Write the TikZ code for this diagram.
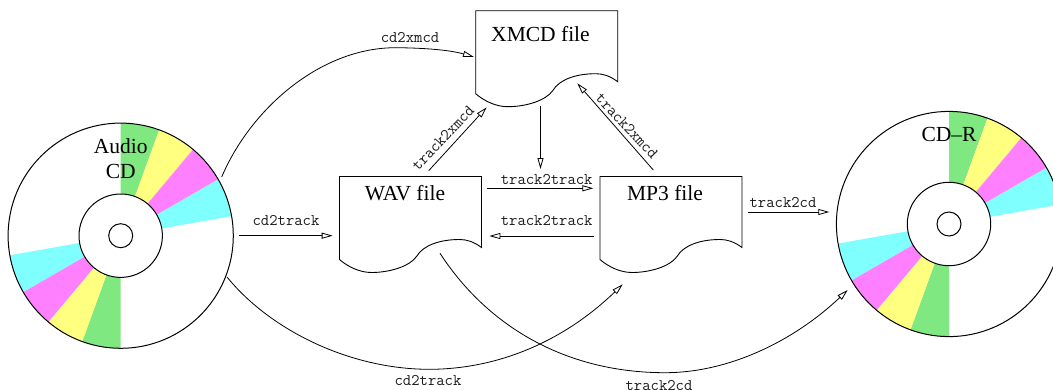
\documentclass[tikz,border=0pt]{standalone}
\usepackage{fontspec}
\setmainfont{Liberation Serif}
\usetikzlibrary{arrows.meta}
\definecolor{cdgreen}{RGB}{128,232,128}
\definecolor{cdyellow}{RGB}{255,255,128}
\definecolor{cdmagenta}{RGB}{255,128,255}
\definecolor{cdcyan}{RGB}{128,255,255}
\tikzset{
  doctext/.style={font=\fontsize{21.5}{21.5}\selectfont,inner sep=0pt},
  cmd/.style={font=\ttfamily\fontsize{16.2}{16.2}\selectfont,inner sep=0pt,text=black!90},
  conn/.style={line width=0.8pt,-{Triangle[open,length=11pt,width=6pt,line width=0.8pt]}},
  ring/.style={circle,draw,line width=1pt,inner sep=0pt,fill=white},
  docline/.style={line width=0.9pt},
  docpage/.pic={
    \draw[docline] (0,0) -- (142,0) -- (142,71)
      .. controls (134,65) and (127,63) .. (120,63)
      .. controls (102,63) and (84,68) .. (77,80)
      .. controls (70,90) and (50,96) .. (32,96)
      .. controls (20,96) and (8,90) .. (0,83) -- cycle;
  }
}
\newcommand{\cddisc}[2]{%
  \begin{scope}[shift={(#2)},y=1pt]
    \foreach \a/\b/\c in {90/70/cdgreen,70/50/cdyellow,50/30/cdmagenta,30/10/cdcyan,270/250/cdgreen,250/230/cdyellow,230/210/cdmagenta,210/190/cdcyan}{
      \fill[\c] (0,0) -- (\a:112.6) arc[start angle=\a,end angle=\b,radius=112.6pt] -- cycle;
    }
  \end{scope}
  \node[ring,fill=none,minimum size=225.2pt] (#1outer) at (#2) {};
  \node[ring,minimum size=83.4pt] (#1inner) at (#2) {};
  \node[ring,minimum size=24pt] (#1hole) at (#2) {};
}
\begin{document}
\begin{tikzpicture}[x=1pt,y=-1pt]
\useasboundingbox (0,0) rectangle (1053,389);
\begin{scope}
  \clip (0,0) rectangle (1053,389);
  \cddisc{audio}{120.7,235.7}
  \cddisc{cdr}{949,224}
\end{scope}
\node[doctext,align=center] (audiolabel) at (120.7,158.5) {Audio\\[3pt]CD};
\node[doctext] (cdrlabel) at (949,134) {CD--R};

\pic at (339.5,176.5) {docpage};
\pic at (475.7,10.7) {docpage};
\pic at (600,176.5) {docpage};
\node[doctext] (wav) at (405,193.5) {WAV file};
\node[doctext] (xmcd) at (540.5,34) {XMCD file};
\node[doctext] (mp3) at (665,193.5) {MP3 file};

\coordinate (a1) at (239,235.7);
\coordinate (a2) at (332.7,235.7);
\coordinate (b1) at (221.7,177);
\coordinate (b2) at (397,47.7);
\coordinate (b3) at (474,57);
\coordinate (c1) at (227,277);
\coordinate (c2) at (430,369.3);
\coordinate (c3) at (622.7,284.3);
\coordinate (d1) at (440,253.3);
\coordinate (d2) at (665,372.7);
\coordinate (d3) at (847.7,290);
\coordinate (e1) at (428.7,170.7);
\coordinate (e2) at (486.7,107.3);
\coordinate (f1) at (653.3,170);
\coordinate (f2) at (577.3,83.3);
\coordinate (g1) at (540.5,106);
\coordinate (g2) at (540.5,169);
\coordinate (h1) at (487.3,188.3);
\coordinate (h2) at (593.3,188.3);
\coordinate (i1) at (594,236);
\coordinate (i2) at (489.3,236);
\coordinate (j1) at (748,212);
\coordinate (j2) at (829.3,212);

\draw[conn] (a1) -- (a2);
\draw[conn] (b1) .. controls (250,110) and (320,47) .. (b2) .. controls (425,48) and (450,50) .. (b3);
\draw[conn] (c1) .. controls (270,330) and (350,369.5) .. (c2) .. controls (500,369) and (565,340) .. (c3);
\draw[conn] (d1) .. controls (490,330) and (570,372.7) .. (d2) .. controls (730,372.7) and (795,340) .. (d3);
\draw[conn] (e1) -- (e2);
\draw[conn] (f1) -- (f2);
\draw[conn] (g1) -- (g2);
\draw[conn] (h1) -- (h2);
\draw[conn] (i1) -- (i2);
\draw[conn] (j1) -- (j2);

\node[cmd] (l1) at (286,220) {cd2track};
\node[cmd] (l2) at (410,37) {cd2xmcd};
\node[cmd] (l3) at (428,380) {cd2track};
\node[cmd] (l4) at (659,385.5) {track2cd};
\node[cmd,rotate=47] (l5) at (443,138) {track2xmcd};
\node[cmd,rotate=-47] (l6) at (627,126) {track2xmcd};
\node[cmd] (l7) at (546.7,179) {track2track};
\node[cmd] (l8) at (546.7,220) {track2track};
\node[cmd] (l9) at (783,202) {track2cd};
\end{tikzpicture}
\end{document}
